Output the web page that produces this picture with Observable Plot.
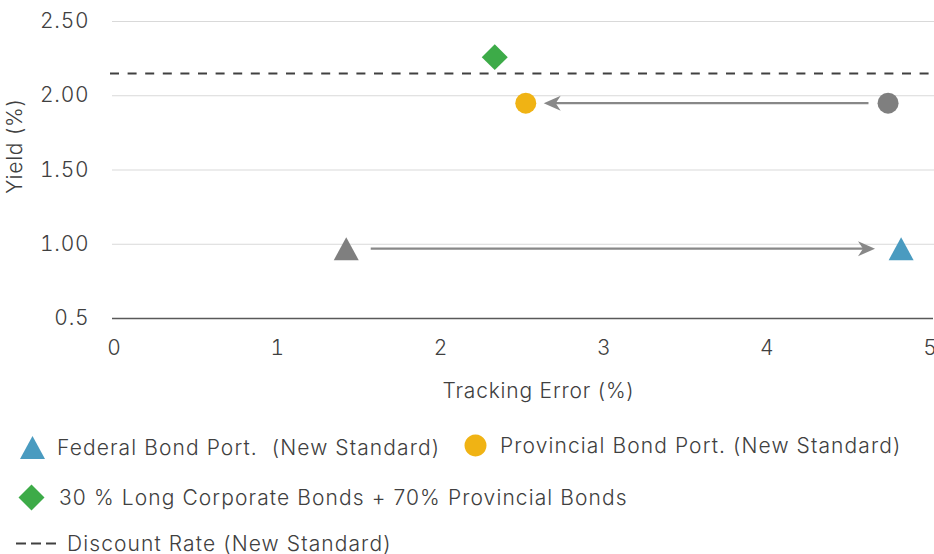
<!DOCTYPE html>
<html>
<head>
<meta charset="utf-8">
<script src="https://cdn.jsdelivr.net/npm/d3@7"></script>
<script src="https://cdn.jsdelivr.net/npm/@observablehq/plot@0.6"></script>
<style>
  html, body { margin: 0; padding: 0; background: #fff; }
  body { width: 934px; height: 554px; overflow: hidden; font-family: "Inter", sans-serif; font-weight: 300; color: #404040; }
  #legend { position: relative; width: 934px; height: 144px; font-size: 21px; letter-spacing: 1.1px; }
  #legend .item { position: absolute; display: flex; align-items: center; height: 30px; white-space: pre; }
  #legend svg { display: block; }
  #chart svg text { font-weight: 300; letter-spacing: 0.8px; }
</style>
</head>
<body>
<div id="chart"></div>
<div id="legend"></div>
<script>
// ---- Data ----
const pointNames = [
  "Federal Bond Port. (Current)",
  "Federal Bond Port. (New Standard)",
  "Provincial Bond Port. (Current)",
  "Provincial Bond Port. (New Standard)",
  "30 % Long Corporate Bonds + 70% Provincial Bonds"
];
const trackingError = [1.42, 4.82, 4.74, 2.52, 2.33];
const yieldPct = [0.97, 0.97, 1.95, 1.95, 2.26];
const pointShape = ["tri", "tri", "circ", "circ", "dia"];
const pointColor = ["#7f7f7f", "#4a9bc0", "#7f7f7f", "#f0b314", "#3dab48"];

const discountRate = 2.15;

// arrows: tail x -> tip x at a yield level
const arrowFromX = [4.62, 1.57];
const arrowToX = [2.63, 4.66];
const arrowY = [1.95, 0.97];

const xTicks = [0, 1, 2, 3, 4, 5];
const xTickLabels = ["0", "1", "2", "3", "4", "5"];
const yTicks = [0.5, 1.0, 1.5, 2.0, 2.5];
const yTickLabels = ["0.5", "1.00", "1.50", "2.00", "2.50"];
const xTitle = "Tracking Error (%)";
const yTitle = "Yield (%)";

const legendItems = [
  {label: "Federal Bond Port.  (New Standard)", shape: "triangle", color: "#4a9bc0"},
  {label: "Provincial Bond Port. (New Standard)", shape: "circle", color: "#f0b314"},
  {label: "30 % Long Corporate Bonds + 70% Provincial Bonds", shape: "diamond", color: "#3dab48"},
  {label: "Discount Rate (New Standard)", shape: "dash", color: "#404040"}
];

// ---- tables built from arrays ----
const points = pointNames.map((name, i) => ({
  name, x: trackingError[i], y: yieldPct[i], shape: pointShape[i], color: pointColor[i]
}));
const arrows = arrowFromX.map((x1, i) => ({x1, x2: arrowToX[i], y: arrowY[i]}));

// ---- custom symbols (fixed pixel size) ----
const triSym = {draw(c) { c.moveTo(0, -11.5); c.lineTo(12.5, 11.5); c.lineTo(-12.5, 11.5); c.closePath(); }};
const circSym = {draw(c) { c.moveTo(10.5, 0); c.arc(0, 0, 10.5, 0, 2 * Math.PI); c.closePath(); }};
const diaSym = {draw(c) { c.moveTo(0, -12.8); c.lineTo(13, 0); c.lineTo(0, 12.8); c.lineTo(-13, 0); c.closePath(); }};
const headSym = {draw(c) { c.moveTo(0, 0); c.lineTo(-17, -7.5); c.lineTo(-12, 0); c.lineTo(-17, 7.5); c.closePath(); }};
const symFor = {tri: triSym, circ: circSym, dia: diaSym};

const chart = Plot.plot({
  width: 934,
  height: 410,
  marginTop: 21,
  marginBottom: 92,
  marginLeft: 114,
  marginRight: 4,
  x: {domain: [0, 5]},
  y: {domain: [0.5, 2.5]},
  style: {fontFamily: "Inter, sans-serif", fontSize: "21px", color: "#404040", background: "#fff", overflow: "visible"},
  marks: [
    Plot.ruleY(yTicks.slice(1), {stroke: "#d9d9d9", strokeWidth: 1.2, insetLeft: -2, insetRight: -4}),
    Plot.ruleY([yTicks[0]], {stroke: "#595959", strokeWidth: 1.5, insetLeft: -2, insetRight: -3}),
    Plot.ruleY([discountRate], {stroke: "#404040", strokeWidth: 2, strokeDasharray: "9,8.6", insetLeft: -4, insetRight: -4}),
    Plot.axisX({ticks: xTicks, tickSize: 0, tickPadding: 22, tickFormat: d => xTickLabels[xTicks.indexOf(d)], label: null, fill: "#404040"}),
    Plot.axisY({ticks: yTicks, tickSize: 0, tickPadding: 25, tickFormat: d => yTickLabels[yTicks.indexOf(d)], label: null, fill: "#404040"}),
    Plot.text([xTitle], {frameAnchor: "bottom", textAnchor: "middle", lineAnchor: "middle", dx: 16, dy: 73, fill: "#404040"}),
    Plot.text([yTitle], {frameAnchor: "left", textAnchor: "middle", lineAnchor: "middle", rotate: -90, dx: -99, dy: -24, fill: "#404040"}),
    Plot.arrow(arrows, {x1: "x1", x2: "x2", y1: "y", y2: "y", stroke: "#888888", strokeWidth: 2.2, headLength: 0, insetEnd: 10, strokeLinecap: "butt"}),
    Plot.dot(arrows, {x: "x2", y: "y", symbol: headSym, r: 5, fill: "#888888", stroke: "none",
      rotate: d => d.x2 < d.x1 ? 180 : 0}),
    ...Object.keys(symFor).map(k =>
      Plot.dot(points.filter(p => p.shape === k), {x: "x", y: "y", symbol: symFor[k], r: 5, fill: "color", stroke: "none"}))
  ]
});
document.getElementById("chart").appendChild(chart);

// ---- legend ----
function shapeSvg(shape, color) {
  const ns = "http://www.w3.org/2000/svg";
  const svg = document.createElementNS(ns, "svg");
  const w = shape === "dash" ? 42 : 27, h = 27;
  svg.setAttribute("width", w); svg.setAttribute("height", h);
  const p = document.createElementNS(ns, "path");
  let d = "";
  if (shape === "triangle") d = "M13.5,2 L26,25 L1,25 Z";
  if (shape === "circle") d = "M13.5,2.5 a11,11 0 1,0 0.01,0 Z";
  if (shape === "diamond") d = "M13.5,0.5 L26.5,13.5 L13.5,26.5 L0.5,13.5 Z";
  if (shape === "dash") d = "M0,13.5 H10 M15,13.5 H25 M30,13.5 H40";
  p.setAttribute("d", d);
  if (shape === "dash") { p.setAttribute("stroke", color); p.setAttribute("stroke-width", 2.2); p.setAttribute("fill", "none"); }
  else p.setAttribute("fill", color);
  svg.appendChild(p);
  return svg;
}
const legendPos = [
  {left: 19, top: 37, gap: 11},
  {left: 462, top: 35, gap: 11},
  {left: 18, top: 87, gap: 14},
  {left: 16, top: 133, gap: 9}
];
const legend = document.getElementById("legend");
legendItems.forEach((it, i) => {
  const pos = legendPos[i];
  const div = document.createElement("div");
  div.className = "item";
  div.style.left = pos.left + "px";
  div.style.top = (pos.top - 15) + "px";
  const s = shapeSvg(it.shape, it.color);
  s.style.marginRight = pos.gap + "px";
  div.appendChild(s);
  const span = document.createElement("span");
  span.textContent = it.label;
  div.appendChild(span);
  legend.appendChild(div);
});
</script>
</body>
</html>
